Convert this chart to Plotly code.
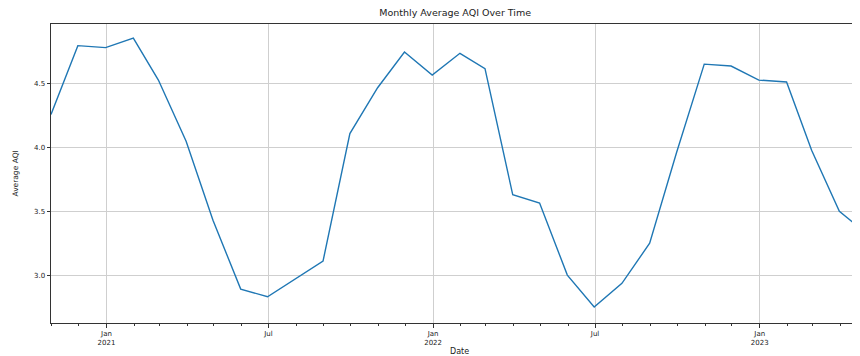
import plotly.graph_objects as go

dates = ["2020-10-31", "2020-11-30", "2020-12-31", "2021-01-31", "2021-02-28", "2021-03-31",
         "2021-04-30", "2021-05-31", "2021-06-30", "2021-07-31", "2021-08-31", "2021-09-30",
         "2021-10-31", "2021-11-30", "2021-12-31", "2022-01-31", "2022-02-28", "2022-03-31",
         "2022-04-30", "2022-05-31", "2022-06-30", "2022-07-31", "2022-08-31", "2022-09-30",
         "2022-10-31", "2022-11-30", "2022-12-31", "2023-01-31", "2023-02-28", "2023-03-31",
         "2023-04-30"]
aqi = [4.26, 4.80, 4.785, 4.86, 4.53, 4.05,
       3.43, 2.89, 2.83, 2.97, 3.11, 4.11,
       4.47, 4.75, 4.57, 4.74, 4.62, 3.63,
       3.565, 3.00, 2.75, 2.935, 3.25, 3.96,
       4.655, 4.64, 4.53, 4.515, 3.98, 3.50,
       3.33]

x_tick_vals = ["2021-01-01", "2021-07-01", "2022-01-01", "2022-07-01", "2023-01-01"]
x_tick_text = ["Jan<br>2021", "Jul", "Jan<br>2022", "Jul", "Jan<br>2023"]
y_tick_vals = [3.0, 3.5, 4.0, 4.5]

fig = go.Figure()
fig.add_trace(go.Scatter(x=dates, y=aqi, mode="lines",
                         line=dict(color="#1f77b4", width=1.4), showlegend=False))

font = "DejaVu Sans, Arial, sans-serif"
fig.update_layout(
    width=860, height=356,
    margin=dict(l=43, r=0, t=16, b=41, autoexpand=False),
    paper_bgcolor="white", plot_bgcolor="white",
    font=dict(family=font, size=7, color="#222"),
    title=dict(text="Monthly Average AQI Over Time", xref="container", x=0.52,
               xanchor="center", yref="container", y=0.986, yanchor="middle",
               font=dict(size=9.5, color="#222")),
    annotations=[
        dict(text="Date", xref="paper", yref="paper", x=0.5, y=-0.094,
             xanchor="center", yanchor="middle", showarrow=False,
             font=dict(size=8, color="#222")),
        dict(text="Average AQI", xref="paper", yref="paper", x=-0.044, y=0.5,
             xanchor="center", yanchor="middle", textangle=-90, showarrow=False,
             font=dict(size=7.5, color="#222")),
    ],
)
fig.update_xaxes(
    type="date", range=["2020-10-31", "2023-05-02"],
    tickvals=x_tick_vals, ticktext=x_tick_text,
    ticks="outside", ticklen=3.5, tickwidth=0.8, tickcolor="#333",
    showgrid=True, gridcolor="#cfcfcf", gridwidth=0.8,
    showline=True, linecolor="#333", linewidth=1, mirror=True,
    minor=dict(dtick="M1", tick0="2020-11-01", ticks="outside", ticklen=2,
               tickcolor="#333", tickwidth=0.6, showgrid=False),
    tickfont=dict(size=7), zeroline=False, automargin=False,
)
fig.update_yaxes(
    range=[2.624, 4.97], tickvals=y_tick_vals, tickformat=".1f",
    ticks="outside", ticklen=3.5, tickwidth=0.8, tickcolor="#333",
    showgrid=True, gridcolor="#cfcfcf", gridwidth=0.8,
    showline=True, linecolor="#333", linewidth=1, mirror=True,
    tickfont=dict(size=7), zeroline=False, automargin=False,
)

fig.write_html("out.html")
